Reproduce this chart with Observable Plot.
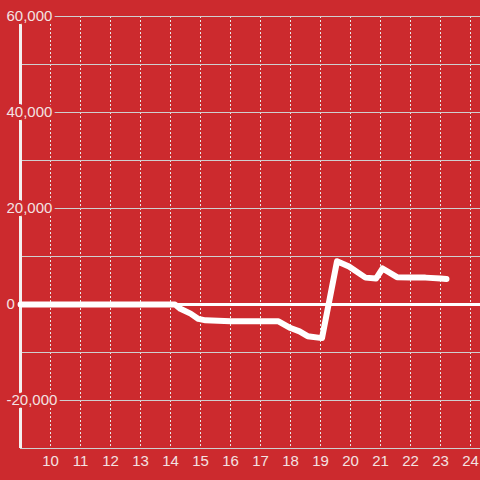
<!DOCTYPE html>
<html>
<head>
<meta charset="utf-8">
<script src="https://cdn.jsdelivr.net/npm/d3@7"></script>
<script src="https://cdn.jsdelivr.net/npm/@observablehq/plot@0.6"></script>
<style>
  html, body { margin: 0; padding: 0; background: #cc2a2e; }
</style>
</head>
<body>
<div id="chart"></div>
<script>
const xs = [9, 10, 11, 12, 13, 14, 14.15, 14.33, 14.67, 14.93, 15.17, 16, 17, 17.6, 18, 18.3, 18.57, 19.05, 19.55, 19.95, 20.5, 20.85, 21.07, 21.55, 22, 22.5, 23, 23.2];
const values = [0, 0, 0, 0, 0, 0, 0, -900, -1900, -3000, -3300, -3500, -3500, -3500, -4900, -5600, -6600, -7000, 9000, 7900, 5600, 5400, 7500, 5700, 5600, 5600, 5400, 5300];
const xTicks = [10, 11, 12, 13, 14, 15, 16, 17, 18, 19, 20, 21, 22, 23, 24];
const yGrid = [-30000, -20000, -10000, 0, 10000, 20000, 30000, 40000, 50000, 60000];
const yLabels = [-20000, 0, 20000, 40000, 60000];

const data = xs.map((x, i) => ({x, v: values[i]}));
const red = "#cc2a2e";
const fmt = d3.format(",");

const chart = Plot.plot({
  width: 480,
  height: 480,
  marginTop: 16,
  marginBottom: 32,
  marginLeft: 20,
  marginRight: 0,
  style: {background: red, fontFamily: "'Liberation Sans', Arial, sans-serif", fontSize: "15px", color: "#f3e2e2"},
  x: {domain: [9, 24.3333], ticks: xTicks, tickSize: 0, tickPadding: 7, tickFormat: d => d, label: null},
  y: {domain: [-30000, 60000], axis: null},
  marks: [
    Plot.ruleX(xTicks, {stroke: "#e8e8e8", strokeWidth: 1, strokeDasharray: "2,2"}),
    Plot.ruleY(yGrid, {stroke: "#cfcfcf", strokeWidth: 1}),
    Plot.ruleX([9], {y1: -30000, y2: 60000, stroke: "#f4f0f0", strokeWidth: 3}),
    Plot.ruleY([0], {stroke: "white", strokeWidth: 3}),
    Plot.line(data, {x: "x", y: "v", stroke: "white", strokeWidth: 6, strokeLinejoin: "round"}),
    Plot.text(yLabels, {
      y: d => d, text: d => fmt(d).replace("−", "-"),
      frameAnchor: "left", textAnchor: "start", dx: -14,
      fill: "#f3e2e2", stroke: red, strokeWidth: 6, paintOrder: "stroke", fontSize: 15
    })
  ]
});
document.getElementById("chart").appendChild(chart);
</script>
</body>
</html>
